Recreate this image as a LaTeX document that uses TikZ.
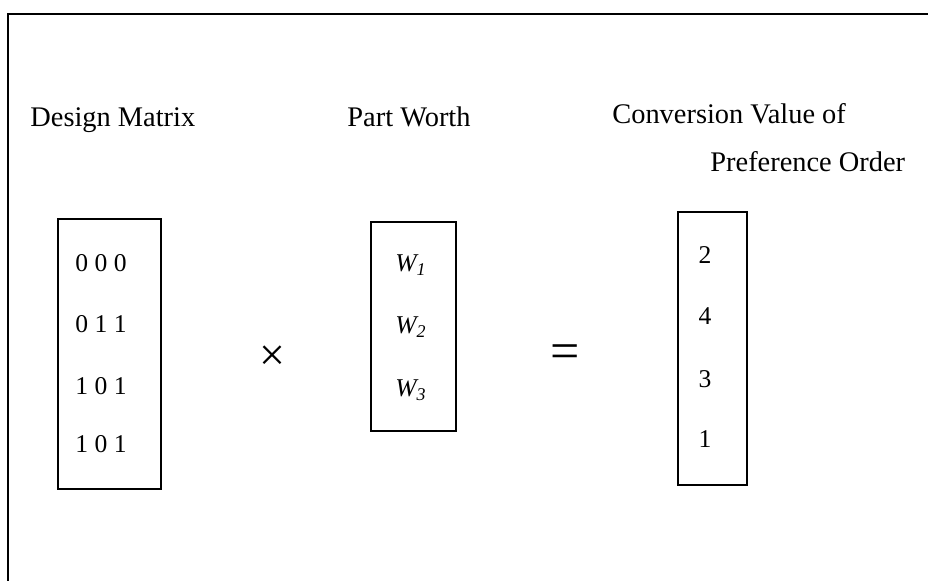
\documentclass[tikz,border=0pt]{standalone}
\usepackage{fontspec}
\setmainfont{Liberation Serif}
\usepackage{tikz}

\begin{document}
\begin{tikzpicture}[x=0.5pt,y=-0.5pt]
    \tikzstyle{lbl}=[inner sep=0,font=\fontsize{14.2}{16}\selectfont]
    \tikzstyle{entry}=[inner sep=0,font=\fontsize{12.8}{15}\selectfont]
    \tikzstyle{op}=[inner sep=0,font=\fontsize{23}{25}\selectfont]
    \useasboundingbox (0,0) rectangle (928,581);
    % open frame, only top and left edges show
    \draw[line width=1pt] (8,581) -- (8,14) -- (928,14);
    % headings
    \node[lbl,anchor=base west] (dm) at (30,127) {Design Matrix};
    \node[lbl,anchor=base] (pw) at (409,127) {Part Worth};
    \node[lbl,anchor=base west] (cv) at (612,124) {Conversion Value of};
    \node[lbl,anchor=base west] (po) at (710,172) {Preference Order};
    % design matrix
    \draw[line width=1pt] (58,219) rectangle (161,489);
    \node[entry] (r1) at (101,263) {0 0 0};
    \node[entry] (r2) at (101,324) {0 1 1};
    \node[entry] (r3) at (101,386) {1 0 1};
    \node[entry] (r4) at (101,444) {1 0 1};
    \node[op] (times) at (272,358) {×};
    % part worth
    \draw[line width=1pt] (371,222) rectangle (456,431);
    \node[entry] (w1) at (411,265) {\textit{W\textsubscript{1}}};
    \node[entry] (w2) at (411,327) {\textit{W\textsubscript{2}}};
    \node[entry] (w3) at (411,390) {\textit{W\textsubscript{3}}};
    \node[op,font=\fontsize{26}{28}\selectfont] (eq) at (565,357) {=};
    % preference order values
    \draw[line width=1pt] (678,212) rectangle (747,485);
    \node[entry] (p1) at (705,255) {2};
    \node[entry] (p2) at (705,316) {4};
    \node[entry] (p3) at (705,379) {3};
    \node[entry] (p4) at (705,439) {1};
\end{tikzpicture}
\end{document}
